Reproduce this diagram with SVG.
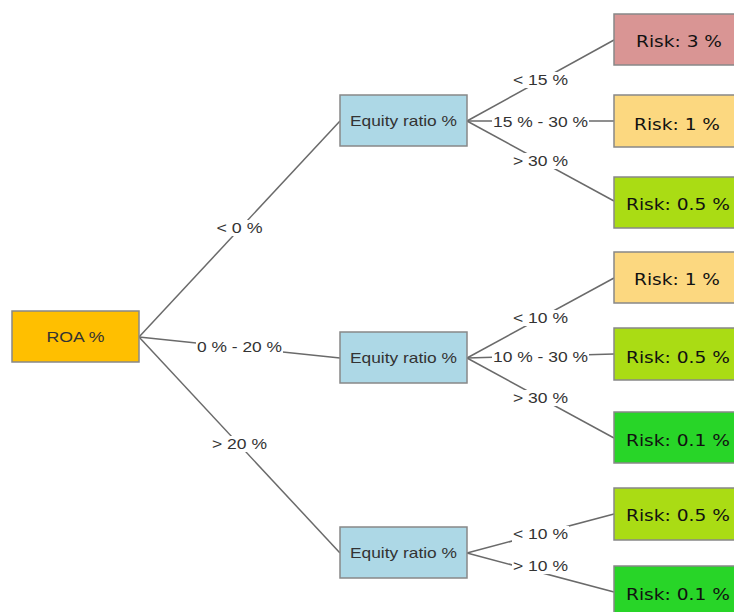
<svg xmlns="http://www.w3.org/2000/svg" width="734" height="612" viewBox="0 0 734 612">
<style>
.box{stroke:#888;stroke-width:1.5}
.roa{fill:#FFBF00}
.eq{fill:#ADD8E6}
.r3{fill:#D99594}
.r1{fill:#FCD880}
.r05{fill:#AADC14}
.r01{fill:#28D528}
.nt{font-family:"Liberation Sans",Arial,sans-serif;font-size:15px;fill:#333;text-anchor:middle}
.rt{font-family:"DejaVu Sans",Verdana,sans-serif;font-size:15.5px;fill:#111;text-anchor:middle}
.edge{stroke:#6a6a6a;stroke-width:1.5;fill:none}
.lb{fill:#fff}
.lt{font-family:"Liberation Sans",Arial,sans-serif;font-size:15px;fill:#333;text-anchor:middle}
</style>
<rect width="734" height="612" fill="#fff"/>
<g id="connectors">
  <line class="edge" x1="139" y1="337" x2="340" y2="121"/>
  <line class="edge" x1="139" y1="337" x2="340" y2="358"/>
  <line class="edge" x1="139" y1="337" x2="340" y2="553"/>
  <line class="edge" x1="467" y1="121" x2="614" y2="40"/>
  <line class="edge" x1="467" y1="121" x2="614" y2="121"/>
  <line class="edge" x1="467" y1="121" x2="614" y2="201"/>
  <line class="edge" x1="467" y1="358" x2="614" y2="278"/>
  <line class="edge" x1="467" y1="358" x2="614" y2="354"/>
  <line class="edge" x1="467" y1="358" x2="614" y2="438"/>
  <line class="edge" x1="467" y1="553" x2="614" y2="514"/>
  <line class="edge" x1="467" y1="553" x2="614" y2="592"/>
  <rect class="lb" x="215" y="220" width="49" height="16"/>
  <text class="lt" x="239.5" y="233.3" textLength="46" lengthAdjust="spacingAndGlyphs">&lt; 0 %</text>
  <rect class="lb" x="196" y="339" width="87" height="16"/>
  <text class="lt" x="239.5" y="352.3" textLength="85" lengthAdjust="spacingAndGlyphs">0 % - 20 %</text>
  <rect class="lb" x="211" y="436" width="57" height="16"/>
  <text class="lt" x="239.5" y="449.3" textLength="55" lengthAdjust="spacingAndGlyphs">&gt; 20 %</text>
  <rect class="lb" x="512" y="72" width="57" height="16"/>
  <text class="lt" x="540.5" y="85.3" textLength="55" lengthAdjust="spacingAndGlyphs">&lt; 15 %</text>
  <rect class="lb" x="492" y="114" width="97" height="16"/>
  <text class="lt" x="540.5" y="127.3" textLength="95" lengthAdjust="spacingAndGlyphs">15 % - 30 %</text>
  <rect class="lb" x="512" y="153" width="57" height="16"/>
  <text class="lt" x="540.5" y="166.3" textLength="55" lengthAdjust="spacingAndGlyphs">&gt; 30 %</text>
  <rect class="lb" x="512" y="310" width="57" height="16"/>
  <text class="lt" x="540.5" y="323.3" textLength="55" lengthAdjust="spacingAndGlyphs">&lt; 10 %</text>
  <rect class="lb" x="492" y="349" width="97" height="16"/>
  <text class="lt" x="540.5" y="362.3" textLength="95" lengthAdjust="spacingAndGlyphs">10 % - 30 %</text>
  <rect class="lb" x="512" y="390" width="57" height="16"/>
  <text class="lt" x="540.5" y="403.3" textLength="55" lengthAdjust="spacingAndGlyphs">&gt; 30 %</text>
  <rect class="lb" x="512" y="526" width="57" height="16"/>
  <text class="lt" x="540.5" y="539.3" textLength="55" lengthAdjust="spacingAndGlyphs">&lt; 10 %</text>
  <rect class="lb" x="512" y="558" width="57" height="16"/>
  <text class="lt" x="540.5" y="571.3" textLength="55" lengthAdjust="spacingAndGlyphs">&gt; 10 %</text>
</g>
<g id="roa">
  <rect class="box roa" x="12" y="311" width="127" height="51"/>
  <text class="nt" x="75.5" y="342" textLength="58" lengthAdjust="spacingAndGlyphs">ROA %</text>
</g>
<g id="eq1">
  <rect class="box eq" x="340" y="95" width="127" height="51"/>
  <text class="nt" x="403.5" y="126" textLength="107" lengthAdjust="spacingAndGlyphs">Equity ratio %</text>
</g>
<g id="eq2">
  <rect class="box eq" x="340" y="332" width="127" height="51"/>
  <text class="nt" x="403.5" y="363" textLength="107" lengthAdjust="spacingAndGlyphs">Equity ratio %</text>
</g>
<g id="eq3">
  <rect class="box eq" x="340" y="527" width="127" height="51"/>
  <text class="nt" x="403.5" y="558" textLength="107" lengthAdjust="spacingAndGlyphs">Equity ratio %</text>
</g>
<g id="risk1">
  <rect class="box r3" x="614" y="14" width="127" height="51"/>
  <text class="rt" x="679" y="47" textLength="86" lengthAdjust="spacingAndGlyphs">Risk: 3 %</text>
</g>
<g id="risk2">
  <rect class="box r1" x="614" y="95" width="127" height="52"/>
  <text class="rt" x="677" y="130" textLength="86" lengthAdjust="spacingAndGlyphs">Risk: 1 %</text>
</g>
<g id="risk3">
  <rect class="box r05" x="614" y="177" width="127" height="51"/>
  <text class="rt" x="678" y="210" textLength="104" lengthAdjust="spacingAndGlyphs">Risk: 0.5 %</text>
</g>
<g id="risk4">
  <rect class="box r1" x="614" y="252" width="127" height="51"/>
  <text class="rt" x="677" y="285" textLength="86" lengthAdjust="spacingAndGlyphs">Risk: 1 %</text>
</g>
<g id="risk5">
  <rect class="box r05" x="614" y="328" width="127" height="52"/>
  <text class="rt" x="678" y="363" textLength="104" lengthAdjust="spacingAndGlyphs">Risk: 0.5 %</text>
</g>
<g id="risk6">
  <rect class="box r01" x="614" y="412" width="127" height="51"/>
  <text class="rt" x="678" y="446" textLength="104" lengthAdjust="spacingAndGlyphs">Risk: 0.1 %</text>
</g>
<g id="risk7">
  <rect class="box r05" x="614" y="488" width="127" height="52"/>
  <text class="rt" x="678" y="521" textLength="104" lengthAdjust="spacingAndGlyphs">Risk: 0.5 %</text>
</g>
<g id="risk8">
  <rect class="box r01" x="614" y="566" width="127" height="51"/>
  <text class="rt" x="678" y="600" textLength="104" lengthAdjust="spacingAndGlyphs">Risk: 0.1 %</text>
</g>
</svg>
